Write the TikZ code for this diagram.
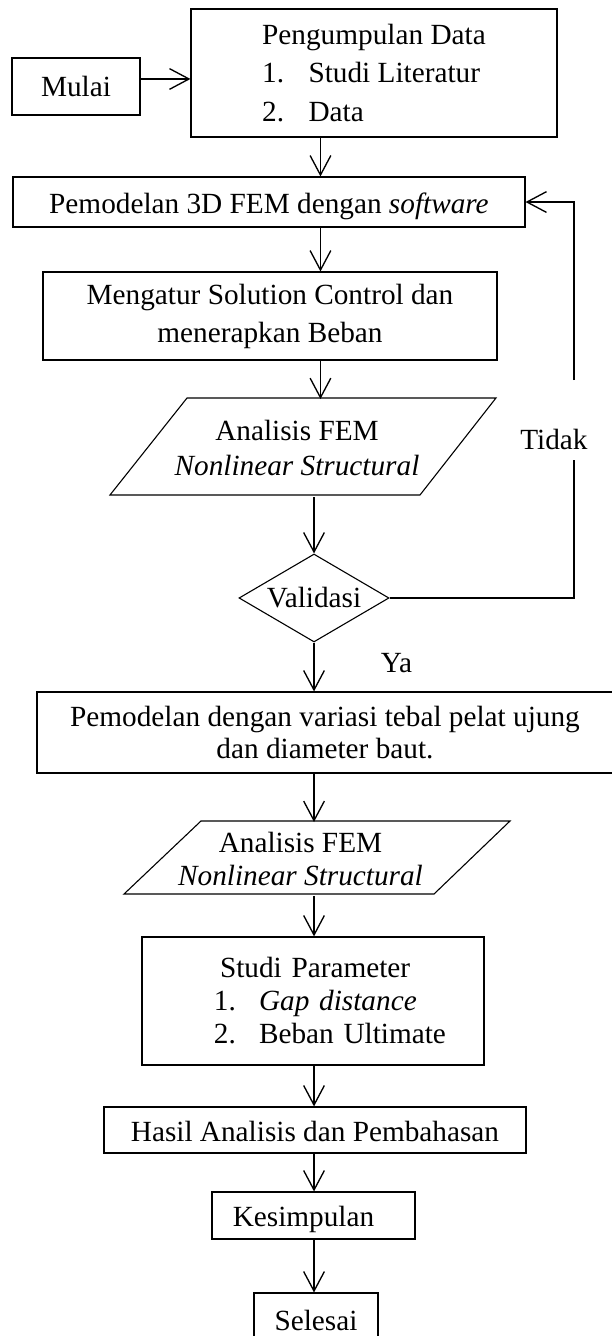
\documentclass[tikz,border=0pt]{standalone}
\usepackage{fontspec}
\setmainfont{Liberation Serif}
\usetikzlibrary{arrows.meta}
\usetikzlibrary{shapes.geometric}
\tikzset{>={Straight Barb[length=8pt,width=8.5pt]}}
\tikzset{
    box/.style={draw, line width=0.45pt, inner sep=0pt, align=center, font=\fontsize{12}{15.6}\selectfont},
    low/.style={text height=12pt, text depth=2.6pt},
    txt/.style={inner sep=0pt, font=\fontsize{12}{15.6}\selectfont},
    arr/.style={->, line width=0.55pt},
}

\begin{document}
\begin{tikzpicture}
            \useasboundingbox (0, 0) rectangle (8.819, -19.252);
            \coordinate (ax) at (4.618, 0);
            \coordinate (bx) at (4.525, 0);
            
            \node[box, line width=0.9pt, minimum width=1.845cm, minimum height=0.821cm] (mulai) at (1.095, -1.247) {Mulai};
            \node[box, align=left, minimum width=5.274cm, minimum height=1.845cm] (data) at (5.389, -1.052) {Pengumpulan Data\\\makebox[19pt][l]{1.}Studi Literatur\\\makebox[19pt][l]{2.}Data};
            \node[box, low, minimum width=7.378cm, minimum height=0.721cm] (soft) at (3.876, -2.911) {Pemodelan 3D FEM dengan \textit{software}};
            \node[box, minimum width=6.542cm, minimum height=1.268cm] (beban) at (3.891, -4.554) {Mengatur Solution Control dan\\menerapkan Beban};
            
            \node[txt, align=center, font=\fontsize{12}{14.3}\selectfont, minimum height=1.398cm] (fem1) at (4.280, -6.456) {Analisis FEM\\\textit{Nonlinear Structural}};
            \draw[line width=0.45pt] (2.695, -5.735) -- (7.147, -5.735) -- (6.052, -7.133) -- (1.585, -7.133) -- cycle;
            
            \node[box, diamond, aspect=1.7, minimum width=2.162cm, minimum height=1.268cm] (val) at (4.525, -8.617) {Validasi};
            \node[txt] (ya) at (5.714, -9.554) {Ya};
            \node[txt] (tidak) at (7.983, -6.340) {Tidak};
            \coordinate (gaplo) at (8.271, -6.629);
            \coordinate (gaphi) at (8.271, -5.476);
            
            \node[box, font=\fontsize{12}{13}\selectfont, minimum width=8.300cm, minimum height=1.167cm] (model) at (4.683, -10.555) {Pemodelan dengan variasi tebal pelat ujung\\dan diameter baut.};
            
            \node[txt, align=center, font=\fontsize{12}{13.5}\selectfont, minimum height=1.052cm] (fem2) at (4.330, -12.378) {Analisis FEM\\\textit{Nonlinear Structural}};
            \draw[line width=0.45pt] (2.896, -11.831) -- (7.349, -11.831) -- (6.254, -12.883) -- (1.787, -12.883) -- cycle;
            
            \node[box, align=left, text width=4.928cm, minimum height=1.845cm, font=\fontsize{12}{13.5}\selectfont] (param) at (4.510, -14.424) {\hspace*{32pt}Studi Parameter\\\hspace*{29.5pt}\makebox[18.5pt][l]{1.}\textit{Gap distance}\\\hspace*{29.5pt}\makebox[18.5pt][l]{2.}Beban Ultimate};
            \node[box, low, minimum width=6.081cm, minimum height=0.663cm] (hasil) at (4.539, -16.283) {Hasil Analisis dan Pembahasan};
            \node[box, low, minimum width=2.925cm, minimum height=0.677cm] (kes) at (4.518, -17.515) {Kesimpulan\hspace*{8.2pt}};
            \node[box, low, minimum width=1.787cm, minimum height=0.749cm] (selesai) at (4.554, -19.007) {Selesai};
            
            \draw[arr] ([yshift=0.109cm]mulai.east) -- ([yshift=0.109cm]mulai.east -| data.west);
            \draw[arr] (data.south -| ax) -- (soft.north -| ax);
            \draw[arr] (soft.south -| ax) -- (beban.north -| ax);
            \draw[arr] (beban.south -| ax) -- (fem1.north -| ax);
            \draw[arr] (fem1.south -| bx) -- (val.north);
            \draw[arr] (val.south) -- (model.north -| val.south);
            \draw[arr] (model.south -| bx) -- (fem2.north -| bx);
            \draw[arr] (fem2.south -| bx) -- (param.north -| bx);
            \draw[arr] (param.south -| bx) -- (hasil.north -| bx);
            \draw[arr] (hasil.south -| bx) -- (kes.north -| bx);
            \draw[arr] (kes.south -| bx) -- (selesai.north -| bx);
            
            \draw[line width=0.55pt] (val.east) -| (gaplo);
            \draw[arr] (gaphi) |- (soft.east);
        \end{tikzpicture}
\end{document}
